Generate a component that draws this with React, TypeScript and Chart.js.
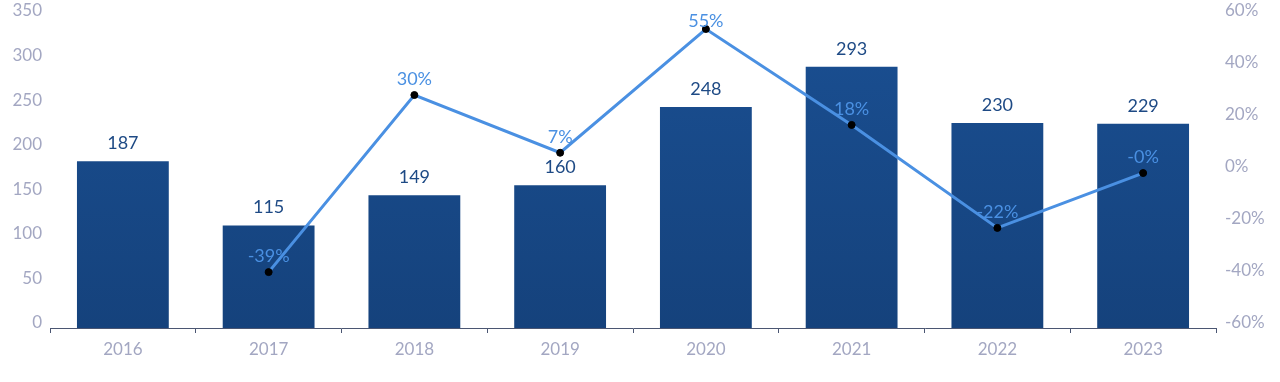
import React, { useEffect, useRef } from "react";
import { Chart, registerables } from "chart.js";

Chart.register(...registerables);

const years = ["2016", "2017", "2018", "2019", "2020", "2021", "2022", "2023"];
const barValues = [187, 115, 149, 160, 248, 293, 230, 229];
const growthValues = [null, -38.5, 29.6, 7.4, 55.0, 18.1, -21.5, -0.4];
const growthLabels = ["", "-39%", "30%", "7%", "55%", "18%", "-22%", "-0%"];
const leftTicks = [0, 50, 100, 150, 200, 250, 300, 350];
const rightTicks = [-60, -40, -20, 0, 20, 40, 60];

const FONT = "Lato, 'Noto Sans', sans-serif";
const AXIS_TEXT = "#a3a7c2";
const AXIS_LINE = "#4b5672";
const BAR_LABEL = "#1e4a85";
const LINE_COLOR = "#4a90e2";

const labelPlugin = {
  id: "valueLabels",
  afterDatasetsDraw(chart: any) {
    const ctx = chart.ctx;
    ctx.save();
    ctx.textAlign = "center";
    ctx.textBaseline = "middle";
    ctx.font = `18px ${FONT}`;
    const barMeta = chart.getDatasetMeta(1);
    barMeta.data.forEach((el: any, i: number) => {
      ctx.fillStyle = BAR_LABEL;
      ctx.fillText(String(barValues[i]), el.x, el.y - 18);
    });
    const lineMeta = chart.getDatasetMeta(0);
    lineMeta.data.forEach((el: any, i: number) => {
      if (growthValues[i] === null) return;
      ctx.fillStyle = LINE_COLOR;
      const y = Math.max(el.y - 16, 21);
      ctx.fillText(growthLabels[i], el.x, y);
    });
    ctx.restore();
  },
};

export default function App() {
  const ref = useRef<HTMLCanvasElement | null>(null);
  useEffect(() => {
    document.body.style.margin = "0";
    const canvas = ref.current!;
    const chart = new Chart(canvas, {
      type: "bar",
      data: {
        labels: years,
        datasets: [
          {
            type: "line",
            label: "growth",
            data: growthValues as any,
            yAxisID: "y1",
            borderColor: LINE_COLOR,
            borderWidth: 3,
            pointRadius: 3.5,
            pointBackgroundColor: "#000000",
            pointBorderColor: "#000000",
            pointBorderWidth: 1,
            tension: 0,
            spanGaps: false,
            order: 0,
          } as any,
          {
            type: "bar",
            label: "value",
            data: barValues,
            yAxisID: "y",
            backgroundColor: (c: any) => {
              const area = c.chart.chartArea;
              if (!area) return "#17488a";
              const g = c.chart.ctx.createLinearGradient(0, area.top, 0, area.bottom);
              g.addColorStop(0, "#1a4f92");
              g.addColorStop(1, "#15427c");
              return g;
            },
            borderWidth: 0,
            categoryPercentage: 1,
            barPercentage: 0.63,
            order: 1,
          } as any,
        ],
      },
      options: {
        responsive: false,
        animation: false,
        layout: { padding: { top: 16, left: 0, right: 0, bottom: 0 } },
        plugins: {
          legend: { display: false },
          tooltip: { enabled: false },
        },
        scales: {
          x: {
            offset: true,
            grid: {
              display: true,
              offset: true,
              drawOnChartArea: false,
              drawTicks: true,
              tickLength: 5,
              color: AXIS_LINE,
              lineWidth: 1,
            },
            border: { display: true, color: AXIS_LINE, width: 1 },
            ticks: {
              color: AXIS_TEXT,
              font: { family: FONT, size: 17 },
              padding: 6,
            },
            afterFit: (s: any) => {
              s.height = 54;
              s.paddingLeft = 0;
              s.paddingRight = 0;
            },
          },
          y: {
            position: "left",
            min: 0,
            max: 350,
            afterBuildTicks: (s: any) => {
              s.ticks = leftTicks.map((v) => ({ value: v }));
            },
            grid: { display: false, drawTicks: false },
            border: { display: false },
            ticks: {
              color: AXIS_TEXT,
              font: { family: FONT, size: 17 },
              padding: 8,
              labelOffset: -5,
            },
            afterFit: (s: any) => {
              s.width = 50;
              s.paddingTop = 0;
              s.paddingBottom = 0;
            },
          },
          y1: {
            position: "right",
            min: -60,
            max: 60,
            afterBuildTicks: (s: any) => {
              s.ticks = rightTicks.map((v) => ({ value: v }));
            },
            grid: { display: false, drawTicks: false },
            border: { display: false },
            ticks: {
              color: AXIS_TEXT,
              font: { family: FONT, size: 17 },
              padding: 9,
              labelOffset: -5,
              callback: (v: any) => `${v}%`,
            },
            afterFit: (s: any) => {
              s.width = 64;
              s.paddingTop = 0;
              s.paddingBottom = 0;
            },
          },
        },
      },
      plugins: [labelPlugin],
    });
    return () => chart.destroy();
  }, []);
  return (
    <div style={{ position: "absolute", left: 0, top: 0, width: 1280, height: 382 }}>
      <canvas ref={ref} width={1280} height={382} style={{ width: 1280, height: 382 }} />
    </div>
  );
}
